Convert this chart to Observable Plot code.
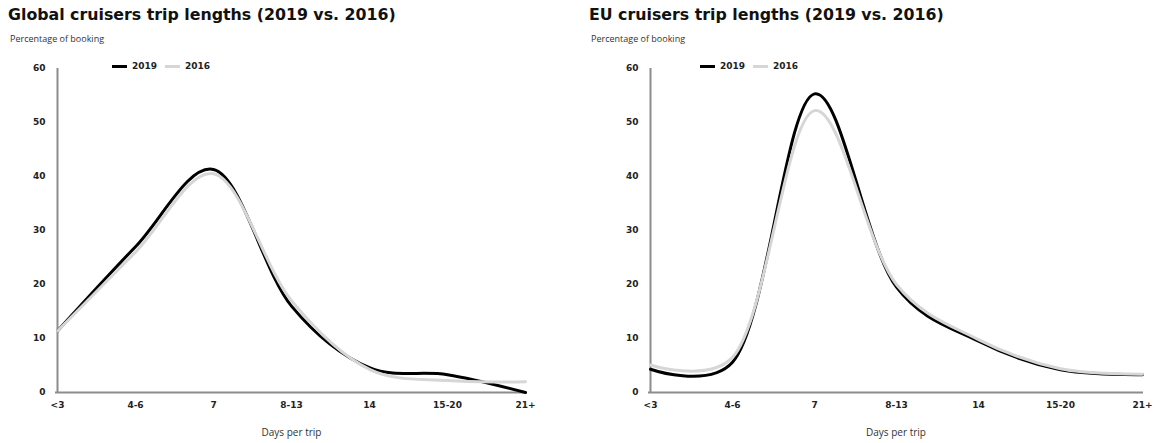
<!DOCTYPE html>
<html><head><meta charset="utf-8">
<script src="https://cdn.jsdelivr.net/npm/d3@7"></script>
<script src="https://cdn.jsdelivr.net/npm/@observablehq/plot@0.6"></script>
<style>
body{margin:0;background:#fff;width:1163px;height:443px;overflow:hidden;position:relative}
.panel{position:absolute;top:0;height:443px}
.title{position:absolute;left:8px;top:5px;font:bold 15.8px "DejaVu Sans",sans-serif;color:#111;white-space:nowrap}
.sub{position:absolute;left:10px;top:32px;font:9px "Open Sans",sans-serif;color:#333;white-space:nowrap}
.chart{position:absolute;left:0;top:50px}
.legend{position:absolute;top:61px;display:flex;align-items:center;font:bold 9px "DejaVu Sans",sans-serif;color:#222}
.item{display:flex;align-items:center;margin-right:8px}
.sw{display:inline-block;width:15px;height:3px;margin-right:5px}
</style></head><body>
<script>
const categories = ["<3","4-6","7","8-13","14","15-20","21+"];
const globalValues2019 = [11.4, 27, 41.3, 16, 4.6, 3.3, 0];
const globalValues2016 = [11.4, 26, 40.5, 17, 4.3, 2.2, 2.0];
const euValues2019 = [4.3, 5.6, 55.3, 19.5, 9.5, 4.2, 3.3];
const euValues2016 = [5.1, 6.5, 52.2, 20, 9.8, 4.4, 3.4];
const yTicks = [0, 10, 20, 30, 40, 50, 60];
const seriesNames = ["2019", "2016"];
const seriesColors = ["#000000", "#d6d6d6"];
const titles = ["Global cruisers trip lengths (2019 vs. 2016)", "EU cruisers trip lengths (2019 vs. 2016)"];
const yLabel = "Percentage of booking";
const xLabel = "Days per trip";

function table(v19, v16) {
  const rows = [];
  categories.forEach((c, i) => rows.push({cat: c, value: v19[i], series: seriesNames[0]}));
  categories.forEach((c, i) => rows.push({cat: c, value: v16[i], series: seriesNames[1]}));
  return rows;
}

function panel(left, width, ml, mr, legendLeft, title, v19, v16) {
  const div = document.createElement("div");
  div.className = "panel";
  div.style.left = left + "px";
  div.style.width = width + "px";
  document.body.appendChild(div);
  const t = document.createElement("div"); t.className = "title"; t.textContent = title; div.appendChild(t);
  const s = document.createElement("div"); s.className = "sub"; s.textContent = yLabel; div.appendChild(s);
  const rows = table(v19, v16);
  const chart = Plot.plot({
    width, height: 393,
    marginLeft: ml, marginRight: mr, marginTop: 18, marginBottom: 51,
    style: {fontFamily: "DejaVu Sans, sans-serif", fontSize: "9px", color: "#222", background: "transparent"},
    x: {type: "point", domain: categories, padding: 0},
    y: {domain: [0, 60]},
    color: {domain: seriesNames, range: seriesColors},
    marks: [
      Plot.ruleX([categories[0]], {stroke: "#8c8c8c", strokeWidth: 2}),
      Plot.ruleY([0], {stroke: "#8c8c8c", strokeWidth: 2}),
      Plot.axisY({ticks: yTicks, tickSize: 0, tickPadding: 10, fontWeight: "bold", label: null}),
      Plot.axisX({tickSize: 0, tickPadding: 9, fontWeight: "bold", label: null}),
      Plot.text([xLabel], {frameAnchor: "bottom", dy: 43, fontFamily: "Open Sans, sans-serif", fontSize: 10, fill: "#333"}),
      Plot.line(rows.filter(d => d.series === seriesNames[0]), {x: "cat", y: "value", stroke: "series", strokeWidth: 3, curve: "catmull-rom", tension: 0.3}),
      Plot.line(rows.filter(d => d.series === seriesNames[1]), {x: "cat", y: "value", stroke: "series", strokeWidth: 3, curve: "catmull-rom", tension: 0.3})
    ]
  });
  chart.classList.add("chart");
  div.appendChild(chart);
  const lg = document.createElement("div");
  lg.className = "legend";
  lg.style.left = legendLeft + "px";
  seriesNames.forEach((n, i) => {
    const it = document.createElement("span"); it.className = "item";
    const sw = document.createElement("span"); sw.className = "sw"; sw.style.background = seriesColors[i];
    it.appendChild(sw);
    it.appendChild(document.createTextNode(n));
    lg.appendChild(it);
  });
  div.appendChild(lg);
}

panel(0, 581, 55, 54, 112, titles[0], globalValues2019, globalValues2016);
panel(581, 582, 67, 20, 119, titles[1], euValues2019, euValues2016);
</script>
</body></html>
